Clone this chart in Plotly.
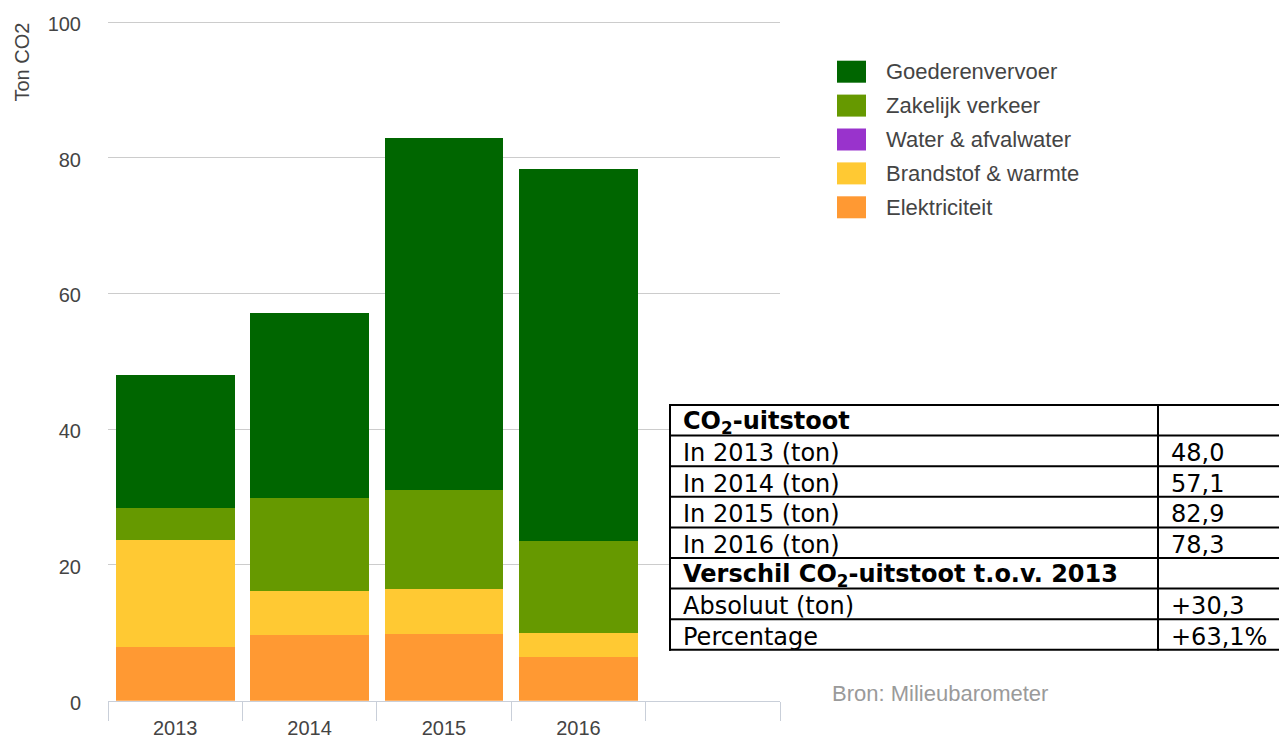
import plotly.graph_objects as go

W, H = 1279, 739

# ---------------- data ----------------
years = ["2013", "2014", "2015", "2016"]
x_slots = years + [" "]          # the axis shows one empty fifth slot

series_names = ["Elektriciteit", "Brandstof & warmte", "Water & afvalwater",
                "Zakelijk verkeer", "Goederenvervoer"]
elektriciteit = [7.9, 9.7, 9.8, 6.4]
brandstof_warmte = [15.8, 6.5, 6.7, 3.6]
water_afvalwater = [0.0, 0.0, 0.0, 0.0]
zakelijk_verkeer = [4.7, 13.6, 14.5, 13.5]
goederenvervoer = [19.6, 27.3, 51.9, 54.8]
series_colors = ["#FF9933", "#FFC933", "#9933CC", "#669900", "#006600"]

y_ticks = [0, 20, 40, 60, 80, 100]
y_title = "Ton CO2"

table_labels = ["<b>CO<sub>2</sub>-uitstoot</b>", "In 2013 (ton)", "In 2014 (ton)",
                "In 2015 (ton)", "In 2016 (ton)",
                "<b>Verschil CO<sub>2</sub>-uitstoot t.o.v. 2013</b>",
                "Absoluut (ton)", "Percentage"]
table_values = ["", "48,0", "57,1", "82,9", "78,3", "", "+30,3", "+63,1%"]

source_text = "Bron: Milieubarometer"

# ---------------- helpers (pixel -> paper) ----------------
def fx(px):
    return px / W

def fy(py):
    return 1 - py / H

CHART_FONT = "Liberation Sans, Arial, sans-serif"
TABLE_FONT = "DejaVu Sans, Verdana, sans-serif"

# plot area: value 0 at y=700.7 px, value 100 at y=22 px
y0_px, y100_px = 700.7, 22.0
ppu = (y0_px - y100_px) / 100.0
y_top_val = 101.0                      # small headroom so the 100 gridline is drawn
y_top_px = y0_px - y_top_val * ppu

series_values = [elektriciteit, brandstof_warmte, water_afvalwater,
                 zakelijk_verkeer, goederenvervoer]

fig = go.Figure()
for name, vals, col in zip(series_names, series_values, series_colors):
    fig.add_trace(go.Bar(x=years, y=vals, name=name, marker_color=col,
                         marker_line_width=0, showlegend=False))

fig.update_layout(
    width=W, height=H,
    template="none",
    barmode="stack",
    bargap=0.117,
    margin=dict(l=0, r=0, t=0, b=0),
    paper_bgcolor="white", plot_bgcolor="white",
    font=dict(family=CHART_FONT, color="#444444"),
    xaxis=dict(
        type="category", categoryorder="array", categoryarray=x_slots,
        range=[-0.5, 4.5],
        domain=[fx(108), fx(780)],
        showgrid=False, zeroline=False,
        showline=True, linecolor="#c9cfd9", linewidth=1,
        ticks="outside", tickson="boundaries", ticklen=19,
        tickcolor="#c9cfd9", tickwidth=1,
        ticklabelstandoff=9,
        tickfont=dict(size=20, color="#444444"),
        automargin=False, fixedrange=True,
    ),
    yaxis=dict(
        range=[0, y_top_val], tickvals=y_ticks,
        domain=[fy(y0_px), fy(y_top_px)],
        showgrid=True, gridcolor="#cccccc", gridwidth=1,
        zeroline=False, showline=False, ticks="",
        ticklabelstandoff=26, ticklabelshift=2,
        tickfont=dict(size=20, color="#444444"),
        automargin=False, fixedrange=True,
    ),
)

shapes = []
annotations = []

# y-axis title
annotations.append(dict(x=fx(21), y=fy(21), xref="paper", yref="paper",
                        text=y_title, textangle=-90, showarrow=False,
                        xanchor="center", yanchor="top",
                        font=dict(size=20, color="#444444", family=CHART_FONT)))

# custom legend (top to bottom: reverse stacking order)
leg_y0, leg_step = 71.7, 33.9
for i, (name, col) in enumerate(zip(series_names[::-1], series_colors[::-1])):
    cy = leg_y0 + i * leg_step
    shapes.append(dict(type="rect", xref="paper", yref="paper",
                       x0=fx(837), x1=fx(866), y0=fy(cy - 11), y1=fy(cy + 11),
                       fillcolor=col, line=dict(width=0)))
    annotations.append(dict(x=fx(884), y=fy(cy), xref="paper", yref="paper",
                            text=name, showarrow=False, xanchor="left",
                            yanchor="middle",
                            font=dict(size=22, color="#444444", family=CHART_FONT)))

# source note
annotations.append(dict(x=fx(830), y=fy(693), xref="paper", yref="paper",
                        text=source_text, showarrow=False, xanchor="left",
                        yanchor="middle",
                        font=dict(size=22, color="#9a9a9a", family=CHART_FONT)))

# summary table
t_left, t_mid, t_right = 670, 1158, 1300
t_top, row_h = 405, 30.6
n_rows = len(table_labels)
t_bottom = t_top + n_rows * row_h
shapes.append(dict(type="rect", xref="paper", yref="paper", layer="above",
                   x0=fx(t_left), x1=fx(t_right), y0=fy(t_bottom), y1=fy(t_top),
                   fillcolor="white", line=dict(width=0)))
for r in range(n_rows + 1):
    yy = t_top + r * row_h
    shapes.append(dict(type="line", xref="paper", yref="paper", layer="above",
                       x0=fx(t_left - 1), x1=fx(t_right), y0=fy(yy), y1=fy(yy),
                       line=dict(color="black", width=2)))
for xx in (t_left, t_mid):
    shapes.append(dict(type="line", xref="paper", yref="paper", layer="above",
                       x0=fx(xx), x1=fx(xx), y0=fy(t_bottom + 1), y1=fy(t_top - 1),
                       line=dict(color="black", width=2)))
for r, (lab, val) in enumerate(zip(table_labels, table_values)):
    cy = t_top + r * row_h + row_h / 2 + 2
    annotations.append(dict(x=fx(t_left + 11), y=fy(cy), xref="paper", yref="paper",
                            text=lab, showarrow=False, xanchor="left",
                            yanchor="middle",
                            font=dict(size=24, color="black", family=TABLE_FONT)))
    if val:
        annotations.append(dict(x=fx(t_mid + 11), y=fy(cy), xref="paper",
                                yref="paper", text=val, showarrow=False,
                                xanchor="left", yanchor="middle",
                                font=dict(size=24, color="black", family=TABLE_FONT)))

fig.update_layout(shapes=shapes, annotations=annotations)

fig.write_html("out.html",
               config={"displayModeBar": False},
               post_script="document.body.style.margin='0';"
                           "document.body.style.overflow='hidden';")
